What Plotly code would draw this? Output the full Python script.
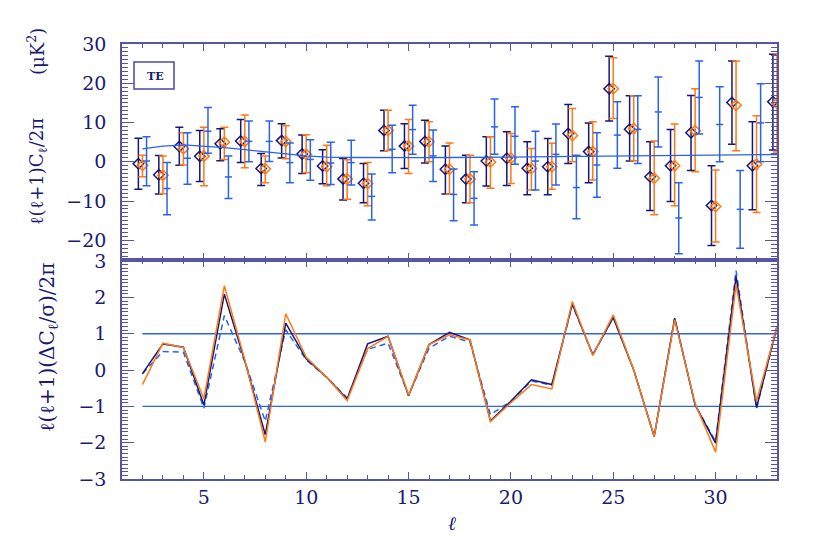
import plotly.graph_objects as go
from plotly.subplots import make_subplots

ell = list(range(2, 34))

# Top panel: TE power spectrum (value, upper end, lower end of error bar)
navy_val = [-0.5, -3.3, 3.9, 1.4, 4.6, 5.3, -1.7, 5.4, 2.0, -1.05, -4.35, -5.45, 8.0, 4.0, 5.2, -1.9,
            -4.4, 0.2, 0.9, -1.65, -1.25, 7.2, 2.6, 18.6, 8.3, -3.8, -1.0, 7.4, -11.1, 15.1, -1.0, 15.3]
navy_hi = [6.0, 1.6, 8.8, 8.0, 8.4, 10.8, 2.1, 9.7, 6.8, 3.1, 0.85, -0.45, 13.1, 9.7, 10.6, 4.0,
           1.7, 6.4, 7.65, 5.1, 5.95, 14.6, 9.9, 26.9, 16.8, 5.1, 8.25, 16.9, -1.0, 25.7, 10.2, 27.4]
navy_lo = [-7.0, -8.2, -0.9, -5.0, 0.3, -0.2, -6.0, 1.0, -3.0, -5.6, -9.7, -10.4, 2.8, -1.7, -0.3, -8.2,
           -10.4, -6.15, -6.05, -8.4, -8.4, -0.4, -5.3, 10.4, 0.2, -12.4, -10.1, -2.2, -21.3, 4.5, -12.2, 3.0]

orange_val = [-0.9, -3.4, 3.35, 1.45, 5.0, 5.2, -1.75, 5.2, 1.9, -1.2, -4.4, -5.5, 8.0, 4.0, 5.1, -1.9,
              -4.4, -0.05, 0.9, -1.7, -1.25, 6.7, 2.6, 18.6, 8.5, -4.2, -1.0, 7.9, -11.4, 14.4, -0.6, 14.9]
orange_hi = [1.7, 1.5, 7.4, 8.8, 8.8, 11.9, 1.5, 9.2, 6.9, 4.2, 0.5, -0.2, 13.1, 10.8, 10.2, 4.8,
             1.7, 6.4, 7.2, 3.4, 4.7, 13.6, 10.2, 26.5, 16.8, 5.3, 9.6, 18.6, -2.1, 25.7, 11.7, 27.5]
orange_lo = [-3.8, -8.1, -0.8, -6.1, 0.6, -1.5, -5.3, 0.8, -2.8, -6.1, -9.5, -11.2, 2.9, -3.0, 0.0, -8.2,
             -10.4, -6.7, -5.5, -7.2, -7.0, 0.0, -4.6, 11.0, 0.3, -13.5, -11.2, -2.5, -20.4, 2.8, -12.9, 2.5]

blue_val = [0.2, -6.8, 0.9, 7.8, -3.85, 5.2, 5.2, -0.2, 0.6, -0.3, -0.2, -8.8, 3.2, 8.2, 1.5, -8.3,
            -9.3, 8.9, 6.5, 0.2, 1.9, -6.55, -0.8, 6.8, 8.25, 12.7, -14.3, 16.4, 9.5, -12.1, 9.9, None]
blue_hi = [6.4, -0.2, 7.4, 13.8, 1.5, 10.4, 10.4, 4.8, 5.6, 5.0, 5.5, -3.1, 9.3, 14.4, 8.1, -1.8,
           -2.5, 16.0, 14.0, 7.8, 9.6, 1.7, 7.4, 15.3, 16.8, 21.6, -5.3, 25.7, 19.1, -2.2, 19.9, None]
blue_lo = [-6.1, -13.5, -5.7, 2.2, -9.35, 0.0, 0.1, -5.3, -4.7, -5.8, -5.9, -14.8, -2.8, 1.9, -5.0, -15.0,
           -16.1, 1.9, -0.6, -7.15, -5.9, -14.5, -9.0, -1.65, -0.4, 3.8, -23.4, 7.1, 0.0, -22.0, 0.0, None]

model = [3.3, 4.0, 4.3, 4.0, 3.6, 3.1, 2.5, 2.0, 1.5, 1.2, 1.1, 1.05, 1.05, 1.05, 1.05, 1.1,
         1.1, 1.15, 1.2, 1.25, 1.3, 1.35, 1.4, 1.45, 1.5, 1.55, 1.6, 1.65, 1.7, 1.75, 1.8, 1.85]

# Bottom panel: normalized residuals
resid_navy = [-0.10, 0.72, 0.63, -0.96, 2.09, 0.25, -1.78, 1.29, 0.31, -0.2, -0.80, 0.72, 0.93, -0.71, 0.70, 1.04,
              0.83, -1.40, -0.86, -0.27, -0.40, 1.82, 0.42, 1.45, 0.0, -1.83, 1.43, -0.96, -2.01, 2.58, -1.03, 1.20]
resid_orange = [-0.40, 0.74, 0.62, -0.79, 2.32, 0.28, -1.98, 1.55, 0.35, -0.2, -0.84, 0.59, 0.93, -0.69, 0.70, 0.97,
                0.83, -1.42, -0.90, -0.40, -0.52, 1.89, 0.40, 1.52, 0.0, -1.83, 1.38, -0.92, -2.26, 2.35, -0.86, 1.20]
resid_blue = [-0.10, 0.51, 0.49, -1.05, 1.50, 0.24, -1.41, 1.11, 0.28, -0.2, -0.77, 0.57, 0.74, -0.69, 0.60, 0.93,
              0.77, -1.23, -0.86, -0.30, -0.42, 1.80, 0.42, 1.45, 0.0, -1.83, 1.43, -0.96, -1.97, 2.74, -1.06, 1.20]

x_ticks = [5, 10, 15, 20, 25, 30]
y_ticks_top = [-20, -10, 0, 10, 20, 30]
y_ticks_bot = [-3, -2, -1, 0, 1, 2, 3]

NAVY = "#16167c"
ORANGE = "#ff7a12"
BLUE = "#2a62f0"
AXC = "#5656a8"
TXT = "#1a1a72"
SERIF = "DejaVu Serif"

# page body has an 8px margin; figure is sized so the plot lands where the reference has it
OFF = 8
W, H = 809, 537
L, T = 122 - OFF, 44 - OFF
PW, PH = 655, 435
R = W - L - PW
B = H - T - PH


def px(x):
    return (x - OFF - L) / PW


def py(y):
    return (T + PH - (y - OFF)) / PH


split = py(260)

fig = make_subplots(rows=2, cols=1, shared_xaxes=True, vertical_spacing=0)


def errs(val, hi, lo):
    plus = [None if v is None else h - v for v, h in zip(val, hi)]
    minus = [None if v is None else v - l for v, l in zip(val, lo)]
    return plus, minus


def shift(d):
    return [e + d for e in ell]


for xs, val, hi, lo, col, sym, size in [
    (shift(-0.2), navy_val, navy_hi, navy_lo, NAVY, "diamond-open", 8),
    (shift(0.0), orange_val, orange_hi, orange_lo, ORANGE, "diamond-open", 8),
    (shift(0.2), blue_val, blue_hi, blue_lo, BLUE, "line-ew", 5),
]:
    p, m = errs(val, hi, lo)
    fig.add_trace(go.Scatter(
        x=xs, y=val, mode="markers",
        marker=dict(symbol=sym, size=size, color=col, line=dict(color=col, width=1.5)),
        error_y=dict(type="data", symmetric=False, array=p, arrayminus=m,
                     color=col, thickness=1.5, width=4),
        showlegend=False), row=1, col=1)

fig.add_trace(go.Scatter(x=ell, y=model, mode="lines", line=dict(color=BLUE, width=1.3),
                         showlegend=False), row=1, col=1)

# bottom panel
for yv in (1, -1):
    fig.add_trace(go.Scatter(x=[ell[0], ell[-1]], y=[yv, yv], mode="lines",
                             line=dict(color=BLUE, width=1.3), showlegend=False), row=2, col=1)
fig.add_trace(go.Scatter(x=ell, y=resid_blue, mode="lines",
                         line=dict(color=BLUE, width=1.5, dash="6px,4px"), showlegend=False), row=2, col=1)
fig.add_trace(go.Scatter(x=ell, y=resid_navy, mode="lines",
                         line=dict(color=NAVY, width=1.5), showlegend=False), row=2, col=1)
fig.add_trace(go.Scatter(x=ell, y=resid_orange, mode="lines",
                         line=dict(color=ORANGE, width=1.5), showlegend=False), row=2, col=1)

tickfont = dict(family=SERIF, size=19, color=TXT)
xcommon = dict(range=[1, 33], tickmode="array", tickvals=x_ticks, ticks="inside", ticklen=7,
               tickcolor=AXC, tickwidth=1.3, showline=True, linecolor=AXC, linewidth=1.5,
               mirror="ticks", showgrid=False, zeroline=False,
               minor=dict(dtick=1, tick0=0, ticks="inside", ticklen=4, tickcolor=AXC, tickwidth=1.2))
fig.update_xaxes(**xcommon)
fig.update_xaxes(showticklabels=False, row=1, col=1)
fig.update_xaxes(showticklabels=True, tickfont=tickfont, row=2, col=1)

ycommon = dict(ticks="inside", ticklen=12, tickcolor=AXC, tickwidth=1.3, showline=True,
               linecolor=AXC, linewidth=1.5, mirror="ticks", showgrid=False, zeroline=False,
               tickfont=tickfont, ticklabelstandoff=10)
fig.update_yaxes(**ycommon)
fig.update_yaxes(range=[-25, 30], tickmode="array", tickvals=y_ticks_top,
                 minor=dict(dtick=1, tick0=0, ticks="inside", ticklen=6, tickcolor=AXC, tickwidth=1.1),
                 domain=[split, 1], row=1, col=1)
fig.update_yaxes(range=[-3, 3.03], tickmode="array", tickvals=y_ticks_bot,
                 minor=dict(dtick=0.1, tick0=0, ticks="inside", ticklen=6, tickcolor=AXC, tickwidth=1.1),
                 domain=[0, split], row=2, col=1)

annots = [
    dict(x=px(38), y=py(172), text="ℓ(ℓ+1)C<sub>ℓ</sub>/2π", textangle=-90, size=18),
    dict(x=px(36), y=py(52), text="(μK<sup>2</sup>)", textangle=-90, size=18),
    dict(x=px(48), y=py(348), text="ℓ(ℓ+1)(ΔC<sub>ℓ</sub>/σ)/2π", textangle=-90, size=20),
    dict(x=px(452), y=py(523), text="<i>ℓ</i>", textangle=0, size=19),
]
for a in annots:
    fig.add_annotation(x=a["x"], y=a["y"], xref="paper", yref="paper", text=a["text"],
                       textangle=a["textangle"], showarrow=False, xanchor="center", yanchor="middle",
                       font=dict(family=SERIF, size=a["size"], color=TXT))

# legend box "TE"
fig.add_shape(type="rect", xref="paper", yref="paper", x0=px(134), x1=px(174), y0=py(89), y1=py(62),
              line=dict(color="#4a4aa0", width=1.5), fillcolor="rgba(0,0,0,0)", layer="below")
fig.add_annotation(x=px(155), y=py(76), xref="paper", yref="paper", text="<b>TE</b>", showarrow=False,
                   xanchor="center", yanchor="middle",
                   font=dict(family=SERIF, size=11, color=TXT))

fig.update_layout(width=W, height=H, margin=dict(l=L, r=R, t=T, b=B),
                  plot_bgcolor="white", paper_bgcolor="white", showlegend=False)

fig.write_html("out.html")
